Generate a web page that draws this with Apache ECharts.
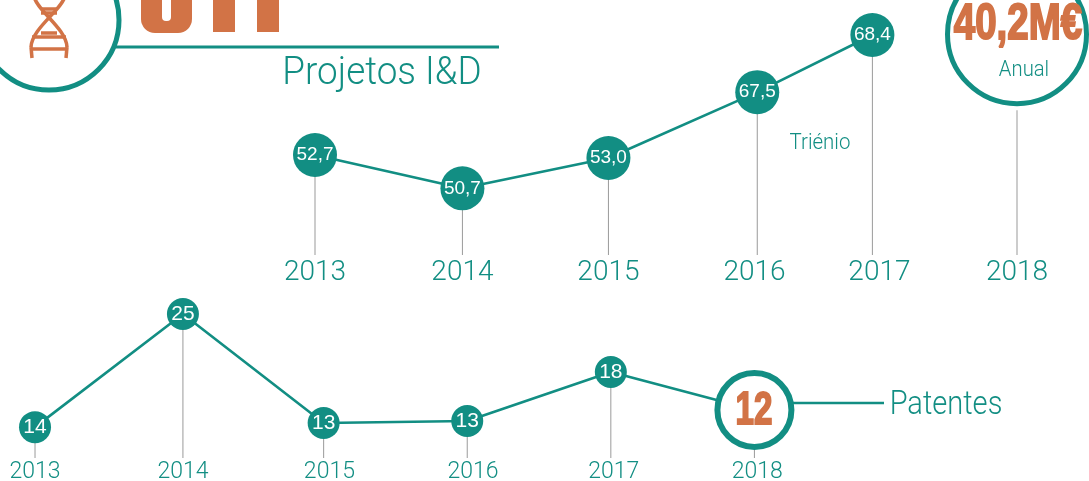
<!DOCTYPE html>
<html>
<head>
<meta charset="utf-8">
<style>
  html, body { margin: 0; padding: 0; background: #fff; }
  #grafico { width: 1089px; height: 481px; }
</style>
<script src="https://cdn.jsdelivr.net/npm/echarts@6/dist/echarts.min.js"></script>
</head>
<body>
<div id="grafico"></div>
<script>
// O original e um infografico desenhado a mao: a altura dos pontos nao segue o valor impresso.
const anosProjetos = [2013, 2014.05, 2015.09, 2016.15, 2016.97];
const rotulosProjetos = [2013, 2014.05, 2015.09, 2016.13, 2017.02, 2018];
const valoresProjetos = [52.7, 50.7, 53.0, 67.5, 68.4];
const alturaProjetos = [54.55, 50.7, 54.2, 61.8, 68.4];
const anoAnual = 2018;
const valorAnual = '40,2M€';
const alturaAnual = 68.5;
const alturaHasteAnual = 59.7;

const anosPatentes = [2013, 2014.03, 2015.01, 2016.01, 2017.01, 2018.01];
const rotulosPatentes = [2013, 2014.03, 2015.05, 2016.05, 2017.03, 2018.03];
const valoresPatentes = [14, 25, 13, 13, 18, 12];
const alturaPatentes = [14, 25, 14.4, 14.6, 19.36, 15.66];

const verde = '#128e83';
const laranja = '#d27346';
const cinza = '#9a9a9a';
const letraFina = 'Roboto, "Liberation Sans", sans-serif';
const letraCirculo = '"Liberation Sans", sans-serif';

const pontos = (xs, ys, vs) => xs.map((x, i) => [x, ys[i], vs[i]]);

const eixoX = (indice, min, max, anos, tamanho, margem) => ({
  type: 'value',
  gridIndex: indice,
  min: min,
  max: max,
  splitLine: { show: false },
  axisLine: { show: false },
  axisTick: { show: false },
  axisLabel: {
    customValues: anos,
    formatter: (v) => String(Math.round(v)),
    color: verde,
    fontFamily: letraFina,
    fontWeight: 300,
    fontSize: tamanho,
    margin: margem
  }
});
const eixoY = (indice, min, max) => ({
  type: 'value',
  gridIndex: indice,
  min: min,
  max: max,
  show: false,
  splitLine: { show: false }
});
const hastes = (indice, dados) => ({
  type: 'bar',
  xAxisIndex: indice,
  yAxisIndex: indice,
  barWidth: 1,
  silent: true,
  z: 1,
  itemStyle: { color: cinza },
  data: dados
});
const traco = (x1, y1, x2, y2) => ({ type: 'line', z: 2, shape: { x1, y1, x2, y2 }, style: { stroke: laranja, lineWidth: 3.5 } });
const fio = (x1, y1, cpx1, cpy1, cpx2, cpy2, x2, y2) => ({
  type: 'bezierCurve', z: 2,
  shape: { x1, y1, cpx1, cpy1, cpx2, cpy2, x2, y2 },
  style: { fill: 'none', stroke: laranja, lineWidth: 3.5 }
});
// nao ha letra condensada instalada, o texto e apertado com scaleX
const texto = (txt, x, y, tamanho, escala) => ({
  type: 'text', z: 4, x, y, scaleX: escala,
  style: { text: txt, fill: verde, font: '300 ' + tamanho + 'px ' + letraFina, textAlign: 'center', textVerticalAlign: 'middle' }
});
const destaque = (txt, x, y, tamanho, escala) => ({
  type: 'text', z: 5, x, y, scaleX: escala,
  style: { text: txt, fill: laranja, stroke: laranja, lineWidth: 2, font: 'bold ' + tamanho + 'px "Liberation Sans", sans-serif', textAlign: 'center', textVerticalAlign: 'middle' }
});

let chart = echarts.init(document.getElementById('grafico'), null, { renderer: 'canvas' });
chart.setOption({
  animation: false,
  backgroundColor: '#fff',
  grid: [
    { left: 244.8, top: 35, width: 842.4, height: 220, outerBoundsMode: 'none' },
    { left: 6.3, top: 314, width: 775.4, height: 144, outerBoundsMode: 'none' }
  ],
  xAxis: [
    eixoX(0, 2012.5, 2018.5, rotulosProjetos, 28, 4),
    eixoX(1, 2012.8, 2018.2, rotulosPatentes, 23, 3)
  ],
  yAxis: [eixoY(0, 43, 68.4), eixoY(1, 11, 25)],
  series: [
    hastes(0, [...anosProjetos.map((x, i) => [x, alturaProjetos[i]]), [anoAnual, alturaHasteAnual]]),
    hastes(1, anosPatentes.map((x, i) => [x, alturaPatentes[i]])),
    {
      // Projetos I&D, trienio
      type: 'line',
      xAxisIndex: 0,
      yAxisIndex: 0,
      clip: false,
      z: 3,
      symbol: 'circle',
      symbolSize: 44,
      encode: { x: 0, y: 1 },
      lineStyle: { color: verde, width: 2.6 },
      itemStyle: { color: verde },
      label: {
        show: true,
        position: 'inside',
        color: '#fff',
        fontFamily: letraCirculo,
        fontSize: 19,
        formatter: (p) => p.value[2].toFixed(1).replace('.', ',')
      },
      data: pontos(anosProjetos, alturaProjetos, valoresProjetos)
    },
    {
      // Valor anual de 2018
      type: 'scatter',
      xAxisIndex: 0,
      yAxisIndex: 0,
      clip: false,
      z: 3,
      symbol: 'circle',
      symbolSize: 139,
      itemStyle: { color: '#fff', borderColor: verde, borderWidth: 5, opacity: 1 },
      data: [[anoAnual, alturaAnual]]
    },
    {
      // Patentes; o ultimo ponto e o anel com o valor de 2018
      type: 'line',
      xAxisIndex: 1,
      yAxisIndex: 1,
      clip: false,
      z: 3,
      symbol: 'circle',
      symbolSize: 32,
      encode: { x: 0, y: 1 },
      lineStyle: { color: verde, width: 2.6 },
      itemStyle: { color: verde },
      label: {
        show: true,
        position: 'inside',
        color: '#fff',
        fontFamily: letraCirculo,
        fontSize: 21,
        formatter: (p) => String(p.value[2])
      },
      data: pontos(anosPatentes, alturaPatentes, valoresPatentes).map((d, i) => i < anosPatentes.length - 1 ? d : {
        value: d,
        symbolSize: 74,
        itemStyle: { color: '#fff', borderColor: verde, borderWidth: 6 },
        label: { show: false }
      })
    }
  ],
  graphic: [
    // anel e icone do canto, recortados pelo topo da pagina
    { type: 'circle', z: 0, shape: { cx: 49, cy: 20, r: 70 }, style: { fill: '#fff', stroke: verde, lineWidth: 5 } },
    fio(34, -4, 36, 10, 66, 28, 67, 47),
    fio(65, -4, 62, 10, 32, 28, 31, 47),
    traco(67, 47, 66, 58),
    traco(31, 47, 32, 58),
    traco(41, 9, 57, 9),
    traco(41, 13, 57, 13),
    traco(41, 33, 57, 33),
    traco(32, 37, 66, 37),
    traco(31, 49, 67, 49),
    { type: 'line', z: 2, shape: { x1: 116, y1: 47, x2: 499, y2: 47 }, style: { stroke: verde, lineWidth: 3 } },
    // fim do numero grande, cortado no original
    { type: 'rect', z: 2, shape: { x: 141, y: -30, width: 51, height: 63, r: 14 }, style: { fill: laranja } },
    { type: 'rect', z: 2, shape: { x: 162, y: -30, width: 9, height: 51, r: 4 }, style: { fill: '#fff' } },
    { type: 'rect', z: 2, shape: { x: 213, y: -5, width: 22, height: 37 }, style: { fill: laranja } },
    { type: 'rect', z: 2, shape: { x: 257, y: -5, width: 22, height: 37 }, style: { fill: laranja } },
    texto('Projetos I&D', 382, 74, 38, 0.97),
    texto('Anual', 1024, 70, 22, 0.92),
    texto('Triénio', 820, 143, 22, 0.93),
    destaque(valorAnual, 1018, 25, 50, 0.77),
    destaque(String(valoresPatentes[5]), 754, 411, 46, 0.72),
    { type: 'line', z: 2, shape: { x1: 790, y1: 403, x2: 884, y2: 403 }, style: { stroke: verde, lineWidth: 2.5 } },
    texto('Patentes', 946, 406, 33, 0.88)
  ]
});
</script>
</body>
</html>
